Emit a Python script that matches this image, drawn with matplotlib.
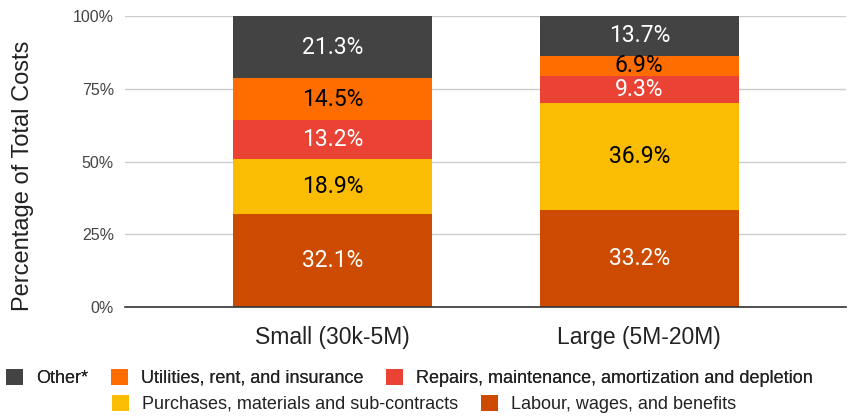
import matplotlib.pyplot as plt
from matplotlib.ticker import FuncFormatter

categories = ["Small (30k-5M)", "Large (5M-20M)"]

# cost shares per category, bottom to top of each stack
labour = [32.1, 33.2]
purchases = [18.9, 36.9]
repairs = [13.2, 9.3]
utilities = [14.5, 6.9]
other = [21.3, 13.7]

series = [
    ("Labour, wages, and benefits", labour, "#cc4b00", "white"),
    ("Purchases, materials and sub-contracts", purchases, "#fbbc04", "black"),
    ("Repairs, maintenance, amortization and depletion", repairs, "#ea4335", "white"),
    ("Utilities, rent, and insurance", utilities, "#ff6d01", "black"),
    ("Other*", other, "#434343", "white"),
]


def main():
    plt.rcParams["font.family"] = ["Liberation Sans", "DejaVu Sans"]

    fig = plt.figure(figsize=(8.53, 4.16), dpi=100)
    ax = fig.add_axes([0.1465, 0.262, 0.8455, 0.6995])

    x = list(range(len(categories)))
    bottom = [0.0] * len(categories)
    handles = {}
    for name, vals, color, txt in series:
        bars = ax.bar(x, vals, width=0.65, bottom=bottom, color=color, label=name, zorder=2)
        handles[name] = bars
        for i, v in enumerate(vals):
            ax.text(x[i], bottom[i] + v / 2, f"{v}%", ha="center", va="center",
                    color=txt, fontsize=16.5, family="Roboto", zorder=3)
        bottom = [b + v for b, v in zip(bottom, vals)]

    ax.set_xlim(-0.678, 1.675)
    ax.set_ylim(0, 100)
    ax.set_yticks([0, 25, 50, 75, 100])
    ax.yaxis.set_major_formatter(FuncFormatter(lambda v, _: f"{v:.0f}%"))
    ax.set_xticks(x)
    ax.set_xticklabels(categories, fontsize=16.5, color="#222222")
    ax.tick_params(axis="y", labelsize=11.5, colors="#444444", length=0, pad=8)
    ax.tick_params(axis="x", length=0, pad=14)
    ax.grid(axis="y", color="#cccccc", linewidth=1, zorder=0)
    for side in ("top", "right", "left"):
        ax.spines[side].set_visible(False)
    ax.spines["bottom"].set_color("#333333")
    ax.spines["bottom"].set_linewidth(1.2)
    ax.spines["bottom"].set_zorder(4)
    ax.set_ylabel("Percentage of Total Costs", fontsize=17, color="#222222")
    ax.yaxis.set_label_coords(-0.126, 0.45)

    legend_kw = dict(frameon=False, fontsize=13, handlelength=0.95, handleheight=0.95,
                     handletextpad=0.72, columnspacing=1.25, borderpad=0, borderaxespad=0,
                     labelcolor="#222222")
    row1 = ["Other*", "Utilities, rent, and insurance",
            "Repairs, maintenance, amortization and depletion"]
    row2 = ["Purchases, materials and sub-contracts", "Labour, wages, and benefits"]
    leg1 = fig.legend([handles[n] for n in row1], row1, ncol=3, loc="center left",
                      bbox_to_anchor=(6 / 853, 1 - 378 / 416), **legend_kw)
    fig.add_artist(leg1)
    fig.legend([handles[n] for n in row2], row2, ncol=2, loc="center left",
               bbox_to_anchor=(112 / 853, 1 - 404 / 416), **legend_kw)

    fig.savefig("out.png", dpi=100)


if __name__ == "__main__":
    main()
